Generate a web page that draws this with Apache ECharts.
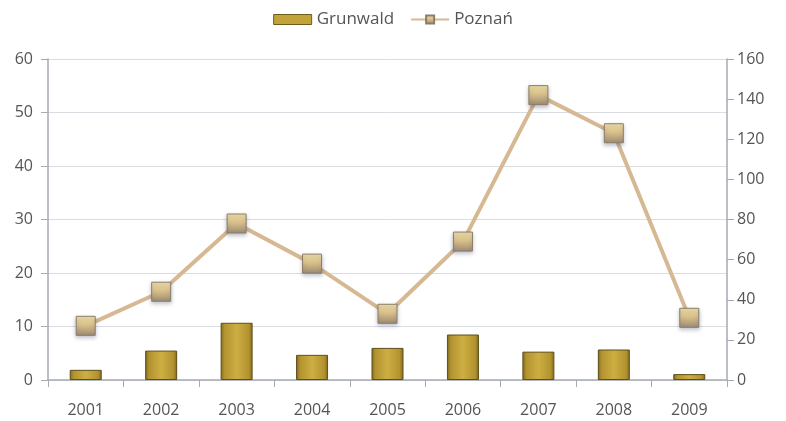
<!DOCTYPE html>
<html>
<head>
<meta charset="utf-8">
<script src="https://cdn.jsdelivr.net/npm/echarts@6/dist/echarts.min.js"></script>
<style>
html,body{margin:0;padding:0;background:#fff;}
#chart{width:786px;height:421px;}
</style>
</head>
<body>
<div id="chart"></div>
<script>
// Yearly counts: Grunwald district (left axis) vs. Poznań city (right axis)
const years = ['2001','2002','2003','2004','2005','2006','2007','2008','2009'];
const grunwald = [1.9, 5.5, 10.7, 4.7, 6.0, 8.5, 5.3, 5.7, 1.1];
const poznan = [27, 44, 78, 58, 33, 69, 142, 123, 31];
const leftTicks = {min: 0, max: 60, interval: 10};
const rightTicks = {min: 0, max: 160, interval: 20};

const textColor = '#555555';
const axisColor = '#a6abb3';
const font = '"Open Sans", "Noto Sans", sans-serif';

const barFill = new echarts.graphic.LinearGradient(0, 0, 1, 0, [
  {offset: 0, color: '#7d6820'},
  {offset: 0.12, color: '#b39330'},
  {offset: 0.5, color: '#cdae42'},
  {offset: 0.88, color: '#b39330'},
  {offset: 1, color: '#7d6820'}
]);
const markerFill = new echarts.graphic.LinearGradient(0, 0, 0, 1, [
  {offset: 0, color: '#f3e3a8'},
  {offset: 0.45, color: '#d9c08a'},
  {offset: 1, color: '#9c8a72'}
]);

const chart = echarts.init(document.getElementById('chart'));
chart.setOption({
  animation: false,
  textStyle: {fontFamily: font},
  legend: {
    top: 6,
    left: 'center',
    itemGap: 16,
    textStyle: {color: textColor, fontSize: 17, fontFamily: font},
    data: [
      {name: 'Grunwald', icon: 'rect', itemStyle: {color: '#c2a23a', borderColor: '#6e5c1c', borderWidth: 1}},
      {name: 'Poznań'}
    ],
    itemWidth: 38,
    itemHeight: 10
  },
  grid: {left: 48, right: 59, top: 59, bottom: 41},
  xAxis: {
    type: 'category',
    data: years,
    boundaryGap: true,
    axisLine: {lineStyle: {color: axisColor, width: 1.5}},
    axisTick: {show: true, length: 7, lineStyle: {color: axisColor}},
    axisLabel: {color: textColor, fontSize: 16, margin: 22}
  },
  yAxis: [
    {
      type: 'value',
      min: leftTicks.min, max: leftTicks.max, interval: leftTicks.interval,
      axisLine: {show: true, lineStyle: {color: axisColor, width: 1.5}},
      axisTick: {show: true, length: 7, lineStyle: {color: axisColor}},
      axisLabel: {color: textColor, fontSize: 16, margin: 15},
      splitLine: {lineStyle: {color: '#d9dce1', width: 1}}
    },
    {
      type: 'value',
      min: rightTicks.min, max: rightTicks.max, interval: rightTicks.interval,
      position: 'right',
      axisLine: {show: true, lineStyle: {color: axisColor, width: 1.5}},
      axisTick: {show: true, length: 7, lineStyle: {color: axisColor}},
      axisLabel: {color: textColor, fontSize: 16, margin: 10},
      splitLine: {show: false}
    }
  ],
  series: [
    {
      name: 'Grunwald',
      type: 'bar',
      yAxisIndex: 0,
      data: grunwald,
      barWidth: 32,
      itemStyle: {color: barFill, borderColor: '#5f4f18', borderWidth: 1}
    },
    {
      name: 'Poznań',
      type: 'line',
      yAxisIndex: 1,
      data: poznan,
      symbol: 'rect',
      symbolSize: 19,
      lineStyle: {color: '#d6b993', width: 4},
      itemStyle: {color: markerFill, borderColor: '#8d7d66', borderWidth: 1,
        shadowColor: 'rgba(60,70,110,0.35)', shadowBlur: 4, shadowOffsetY: 2}
    }
  ]
});
</script>
</body>
</html>
